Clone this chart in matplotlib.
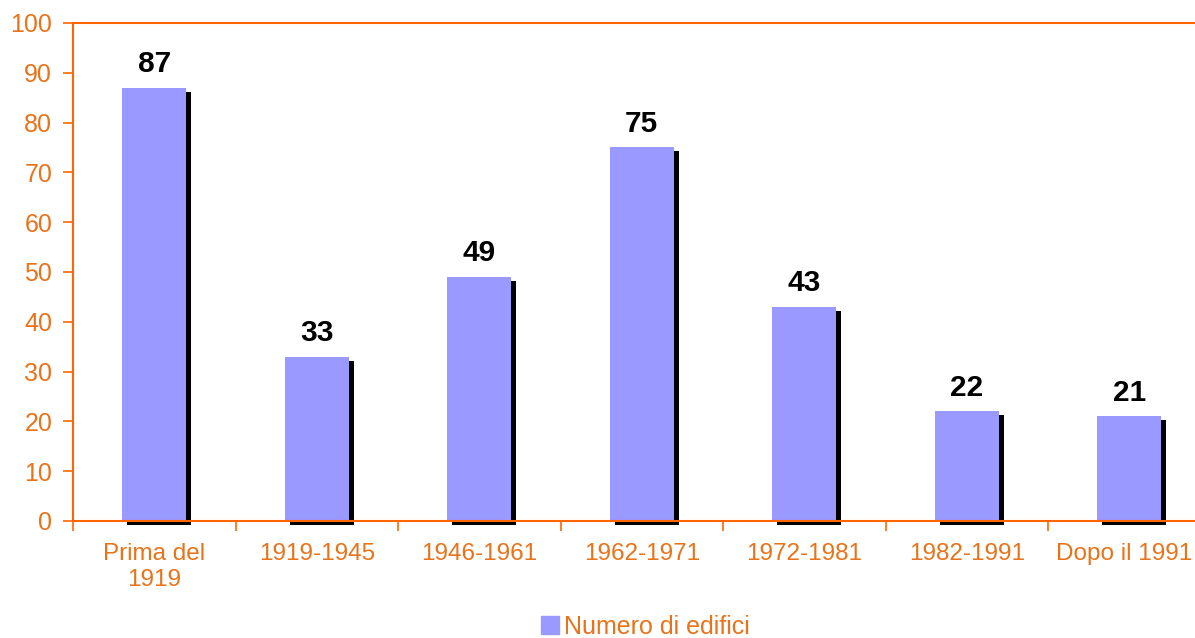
import matplotlib.pyplot as plt
import matplotlib.transforms as mtransforms
from matplotlib.patches import Patch

categories = ['Prima del\n1919', '1919-1945', '1946-1961', '1962-1971',
              '1972-1981', '1982-1991', 'Dopo il 1991']
values = [87, 33, 49, 75, 43, 22, 21]
series_name = 'Numero di edifici'

ORANGE = '#FF6600'
TEXT_ORANGE = '#E8731A'
BAR = '#9999FF'

plt.rcParams['font.family'] = ['Liberation Sans', 'DejaVu Sans']

fig = plt.figure(figsize=(11.95, 6.38), dpi=100)
ax = fig.add_axes([73 / 1195, 117 / 638, 1137.5 / 1195, 498 / 638])

x = list(range(len(categories)))
width = 0.395

# shadow bars, shifted right and down by a few pixels
shift = mtransforms.ScaledTranslation(5 / 100, -4 / 100, fig.dpi_scale_trans)
ax.bar(x, values, width=width, color='black', zorder=1,
       transform=ax.transData + shift, clip_on=False)
ax.bar(x, values, width=width, color=BAR, zorder=2)

for xi, v in zip(x, values):
    ax.annotate(str(v), (xi, v), xytext=(0, 7), textcoords='offset points',
                ha='center', va='bottom', fontsize=21.5, fontweight='bold',
                color='black')

ax.set_xlim(-0.5, 6.5)
ax.set_ylim(0, 100)
ax.set_yticks(range(0, 101, 10))

# boundary ticks without labels, labels at category centres
ax.set_xticks([i - 0.5 for i in range(len(categories) + 1)])
ax.set_xticklabels([])
ax.set_xticks(x, minor=True)
ax.set_xticklabels(categories, minor=True)
ax.tick_params(axis='x', which='major', length=7, width=1.2, color=ORANGE,
               direction='out')
ax.tick_params(axis='x', which='minor', length=0, pad=16,
               labelsize=17.5, labelcolor=TEXT_ORANGE)
ax.tick_params(axis='y', length=7, width=1.2, color=ORANGE, direction='out',
               pad=8, labelsize=18, labelcolor=TEXT_ORANGE)

# last label sits against the right edge, nudge it left a bit
last = ax.xaxis.get_minor_ticks()[-1].label1
nudge = mtransforms.ScaledTranslation(-5 / 100, 0, fig.dpi_scale_trans)
last.set_transform(last.get_transform() + nudge)

for side in ['left', 'bottom', 'top']:
    ax.spines[side].set_color(ORANGE)
    ax.spines[side].set_linewidth(1.5)
    ax.spines[side].set_zorder(3)
ax.spines['right'].set_visible(False)

fig.legend(handles=[Patch(color=BAR, label=series_name)],
           loc='center', bbox_to_anchor=(0.54, 0.018), frameon=False,
           fontsize=18, labelcolor=TEXT_ORANGE, handlelength=0.7,
           handleheight=0.7, handletextpad=0.2)

fig.savefig('out.png', dpi=100)
